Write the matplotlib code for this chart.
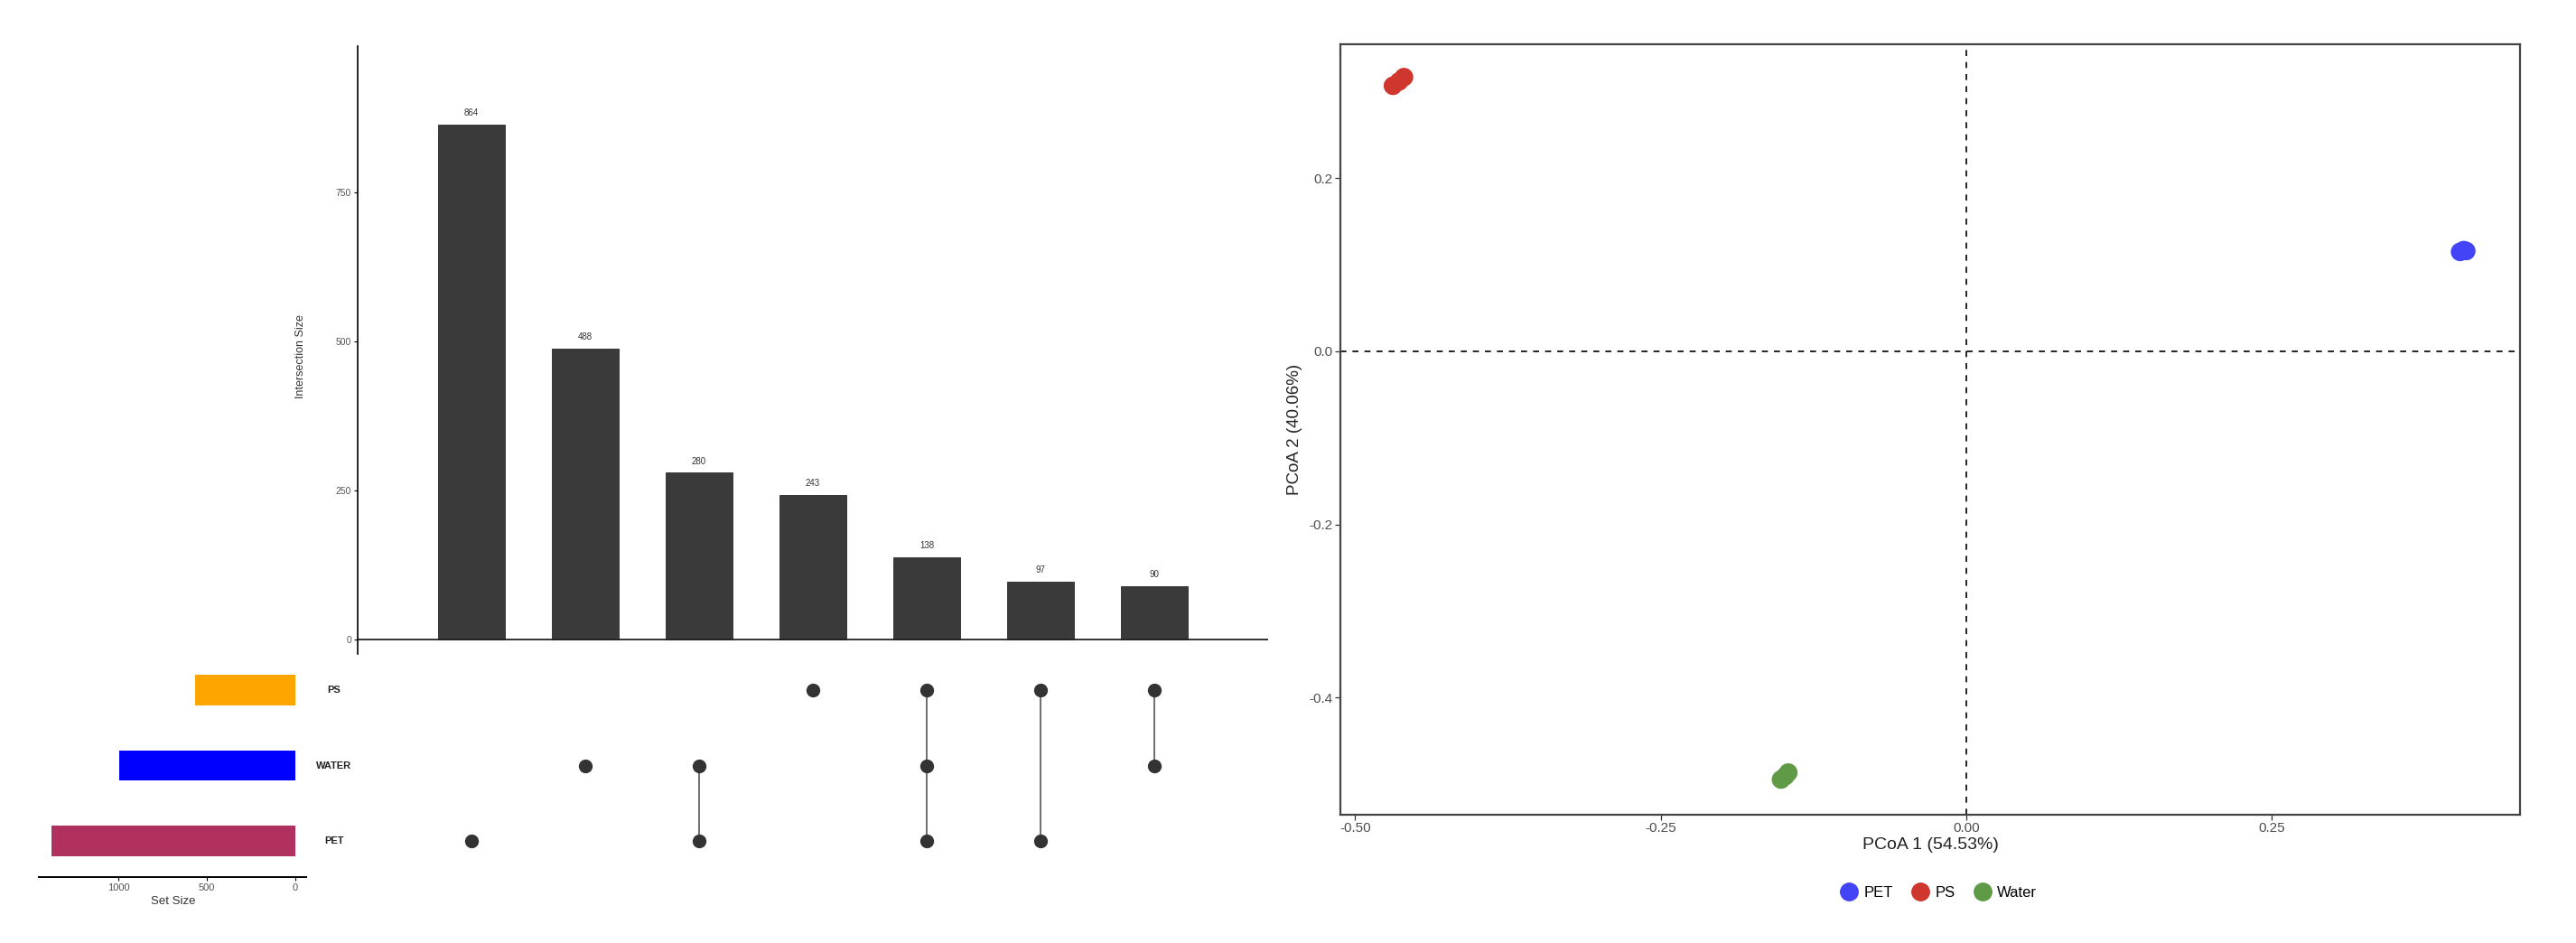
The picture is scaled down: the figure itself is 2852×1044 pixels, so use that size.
import numpy as np
import matplotlib.pyplot as plt
from matplotlib.lines import Line2D

plt.rcParams['font.family'] = ['Liberation Sans', 'DejaVu Sans']

# upset data
set_names = ['PET', 'WATER', 'PS']          # bottom to top in matrix
set_colors = ['#B03060', '#0000FF', '#FFA500']
set_sizes = [1379, 996, 568]

inter_sizes = [864, 488, 280, 243, 138, 97, 90]
inter_members = [['PET'], ['WATER'], ['WATER', 'PET'], ['PS'],
                 ['PS', 'WATER', 'PET'], ['PS', 'PET'], ['PS', 'WATER']]

# pcoa data
pet_x = [0.404, 0.407, 0.409]
pet_y = [0.115, 0.117, 0.116]
ps_x = [-0.469, -0.464, -0.460]
ps_y = [0.307, 0.312, 0.317]
water_x = [-0.1515, -0.148, -0.1456]
water_y = [-0.495, -0.491, -0.487]
group_names = ['PET', 'PS', 'Water']
group_colors = ['#4343F7', '#CF362D', '#5F9A47']

W, H = 2852, 1044


def box(l, t, r, b):
    return [l / W, 1 - b / H, (r - l) / W, (b - t) / H]


fig = plt.figure(figsize=(W / 100, H / 100), dpi=100)

# ---- intersection bars
ax_bar = fig.add_axes(box(396, 51, 1404, 724))
xs = np.arange(len(inter_sizes))
ax_bar.bar(xs, inter_sizes, width=0.58, color='#3A3A3A', edgecolor='#2a2a2a', linewidth=0.6)
for x, v in zip(xs, inter_sizes):
    ax_bar.text(x, v + 12, str(v), ha='center', va='bottom', fontsize=7, color='#333333')
ax_bar.axhline(0, color='#222222', lw=1.3)
ax_bar.set_xlim(-1, 7)
ax_bar.set_ylim(-24, 996)
ax_bar.set_yticks([0, 250, 500, 750])
ax_bar.tick_params(axis='y', labelsize=7.5, labelcolor='#555555', length=3, width=0.8, pad=2)
ax_bar.set_xticks([])
for s in ['top', 'right', 'bottom']:
    ax_bar.spines[s].set_visible(False)
ax_bar.spines['left'].set_linewidth(1.2)
ax_bar.set_ylabel('Intersection Size', fontsize=9, color='#333333')
ax_bar.yaxis.set_label_coords(-0.0565, 0.49)

# ---- matrix
ax_mat = fig.add_axes(box(396, 730, 1404, 965))
ax_mat.set_xlim(-1, 7)
ax_mat.set_ylim(-0.4, 2.405)
for x, members in enumerate(inter_members):
    rows = [set_names.index(m) for m in members]
    if len(rows) > 1:
        ax_mat.plot([x, x], [min(rows), max(rows)], color='#555555', lw=1.2, zorder=1)
    ax_mat.plot([x] * len(rows), rows, 'o', color='#333333', markersize=10, zorder=2)
for i, name in enumerate(set_names):
    ax_mat.text(-1.206, i, name, ha='center', va='center', fontsize=8, color='#222222',
                fontweight='bold', clip_on=False)
ax_mat.axis('off')

# ---- set sizes
ax_set = fig.add_axes(box(43, 730, 339, 971))
ax_set.barh(range(len(set_names)), set_sizes, height=0.4, color=set_colors)
ax_set.set_xlim(1449, -61)
ax_set.set_ylim(-0.476, 2.405)
ax_set.set_xticks([1000, 500, 0])
ax_set.set_yticks([])
ax_set.tick_params(axis='x', labelsize=8, labelcolor='#555555', length=3, width=0.8, pad=2)
for s in ['top', 'right', 'left']:
    ax_set.spines[s].set_visible(False)
ax_set.spines['bottom'].set_linewidth(1.4)
ax_set.set_xlabel('Set Size', fontsize=9.5, color='#333333')
ax_set.xaxis.set_label_coords(0.503, -0.087)

# ---- PCoA
ax_p = fig.add_axes(box(1484, 49, 2790, 902))
for gx, gy, c in zip([pet_x, ps_x, water_x], [pet_y, ps_y, water_y], group_colors):
    ax_p.scatter(gx, gy, s=220, color=c, edgecolors='none', zorder=3)
ax_p.axvline(0, color='black', ls=(0, (4, 4)), lw=1.2)
ax_p.axhline(0, color='black', ls=(0, (4, 4)), lw=1.2)
ax_p.set_xlim(-0.512, 0.453)
ax_p.set_ylim(-0.5357, 0.355)
ax_p.set_xticks([-0.5, -0.25, 0.0, 0.25])
ax_p.set_xticklabels(['-0.50', '-0.25', '0.00', '0.25'])
ax_p.set_yticks([-0.4, -0.2, 0.0, 0.2])
ax_p.set_yticklabels(['-0.4', '-0.2', '0.0', '0.2'])
ax_p.tick_params(labelsize=11, labelcolor='#4D4D4D', length=4, width=0.9, color='#333333', pad=2)
for s in ax_p.spines.values():
    s.set_color('#444444')
    s.set_linewidth(1.6)
ax_p.set_xlabel('PCoA 1 (54.53%)', fontsize=14, color='#222222', va='center')
ax_p.set_ylabel('PCoA 2 (40.06%)', fontsize=13.5, color='#222222', va='center')
ax_p.xaxis.set_label_coords(0.5, -0.0395)
ax_p.yaxis.set_label_coords(-0.039, 0.5)

handles = [Line2D([], [], marker='o', ls='none', color=c, markersize=14) for c in group_colors]
fig.legend(handles, group_names, loc='center', bbox_to_anchor=(0.7528, 0.0536), ncol=3,
           frameon=False, fontsize=12, handletextpad=0.5, columnspacing=1.3, handlelength=1.0)

fig.savefig('out.png', dpi=100)
